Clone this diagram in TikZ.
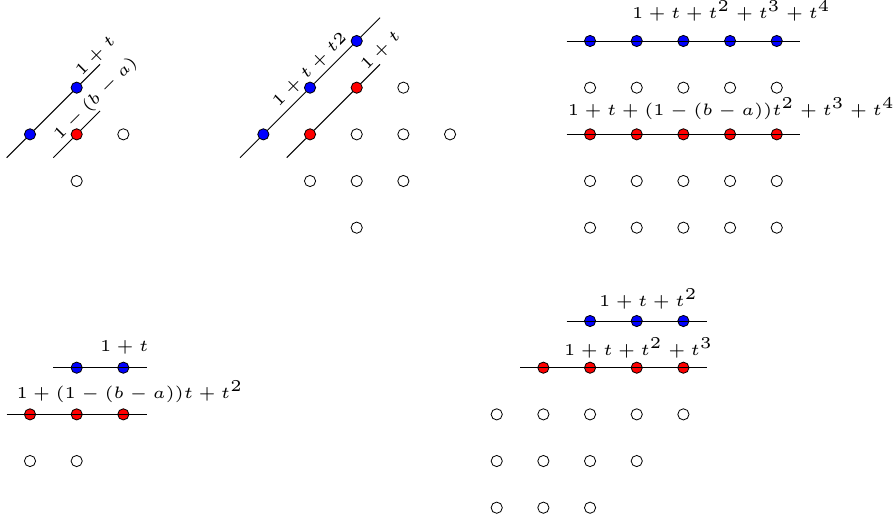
\documentclass[tikz,border=0pt]{standalone}
\begin{document}
\begin{tikzpicture}
\tikzset{
 pt/.style={circle, draw=black, line width=0.5pt, inner sep=0pt, minimum size=0.24cm},
 bpt/.style={pt, fill=blue},
 rpt/.style={pt, fill=red},
 ept/.style={pt, fill=white},
 seg/.style={draw=black, line width=0.6pt},
 lab/.style={font=\tiny, scale=2.02, inner sep=0pt},
}
\useasboundingbox (-0.643,0.8785) rectangle (18.534,-10.221);
% ---------- panel 1
\node[bpt] (a1) at (0,-2) {};
\node[bpt] (a2) at (1,-1) {};
\node[rpt] (a3) at (1,-2) {};
\node[ept] (a4) at (2,-2) {};
\node[ept] (a5) at (1,-3) {};
\coordinate (a1s) at (-0.5,-2.5); \coordinate (a1e) at (1.5,-0.5);
\coordinate (a3s) at (0.5,-2.5); \coordinate (a3e) at (1.5,-1.5);
\draw[seg] (a1s) -- (a1) -- (a2) -- (a1e);
\draw[seg] (a3s) -- (a3) -- (a3e);
\node[lab, rotate=45] (la1) at (1.41,-0.32) {$1+t$};
\node[lab, rotate=45] (la2) at (1.41,-1.24) {$1-(b-a)$};
% ---------- panel 2
\node[bpt] (b1) at (5,-2) {};
\node[bpt] (b2) at (6,-1) {};
\node[bpt] (b3) at (7,0) {};
\node[rpt] (b4) at (6,-2) {};
\node[rpt] (b5) at (7,-1) {};
\foreach \x/\y [count=\k] in {8/-1,7/-2,8/-2,9/-2,6/-3,7/-3,8/-3,7/-4}
  \node[ept] (be\k) at (\x,\y) {};
\coordinate (b1s) at (4.5,-2.5); \coordinate (b1e) at (7.5,0.5);
\coordinate (b4s) at (5.5,-2.5); \coordinate (b4e) at (7.5,-0.5);
\draw[seg] (b1s) -- (b1) -- (b2) -- (b3) -- (b1e);
\draw[seg] (b4s) -- (b4) -- (b5) -- (b4e);
\node[lab, rotate=45] (lb1) at (6.0,-0.62) {$1+t+t2$};
\node[lab, rotate=45] (lb2) at (7.52,-0.21) {$1+t$};
% ---------- panel 3
\foreach \i in {12,...,16} {
  \node[bpt] (c0\i) at (\i,0) {};
  \node[ept] (c1\i) at (\i,-1) {};
  \node[rpt] (c2\i) at (\i,-2) {};
  \node[ept] (c3\i) at (\i,-3) {};
  \node[ept] (c4\i) at (\i,-4) {};
}
\coordinate (c0s) at (11.5,0); \coordinate (c0e) at (16.5,0);
\coordinate (c2s) at (11.5,-2); \coordinate (c2e) at (16.5,-2);
\draw[seg] (c0s) -- (c0e);
\draw[seg] (c2s) -- (c2e);
\node[lab, anchor=base] (lc1) at (15.03,0.49) {$1+t+t^2+t^3+t^4$};
\node[lab, anchor=base] (lc2) at (15.03,-1.6) {$1+t+(1-(b-a))t^2+t^3+t^4$};
% ---------- panel 4
\node[bpt] (d1) at (1,-7) {};
\node[bpt] (d2) at (2,-7) {};
\node[rpt] (d3) at (0,-8) {};
\node[rpt] (d4) at (1,-8) {};
\node[rpt] (d5) at (2,-8) {};
\node[ept] (d6) at (0,-9) {};
\node[ept] (d7) at (1,-9) {};
\coordinate (d1s) at (0.5,-7); \coordinate (d1e) at (2.5,-7);
\coordinate (d3s) at (-0.5,-8); \coordinate (d3e) at (2.5,-8);
\draw[seg] (d1s) -- (d1e);
\draw[seg] (d3s) -- (d3e);
\node[lab, anchor=base] (ld1) at (2.02,-6.66) {$1+t$};
\node[lab, anchor=base] (ld2) at (2.14,-7.65) {$1+(1-(b-a))t+t^2$};
% ---------- panel 5
\node[bpt] (e1) at (12,-6) {};
\node[bpt] (e2) at (13,-6) {};
\node[bpt] (e3) at (14,-6) {};
\node[rpt] (e4) at (11,-7) {};
\node[rpt] (e5) at (12,-7) {};
\node[rpt] (e6) at (13,-7) {};
\node[rpt] (e7) at (14,-7) {};
\foreach \x/\y [count=\k] in {10/-8,11/-8,12/-8,13/-8,14/-8,10/-9,11/-9,12/-9,13/-9,10/-10,11/-10,12/-10}
  \node[ept] (ee\k) at (\x,\y) {};
\coordinate (e1s) at (11.5,-6); \coordinate (e1e) at (14.5,-6);
\coordinate (e4s) at (10.5,-7); \coordinate (e4e) at (14.5,-7);
\draw[seg] (e1s) -- (e1e);
\draw[seg] (e4s) -- (e4e);
\node[lab, anchor=base] (le1) at (13.25,-5.68) {$1+t+t^2$};
\node[lab, anchor=base] (le2) at (13.04,-6.73) {$1+t+t^2+t^3$};
\end{tikzpicture}
\end{document}
